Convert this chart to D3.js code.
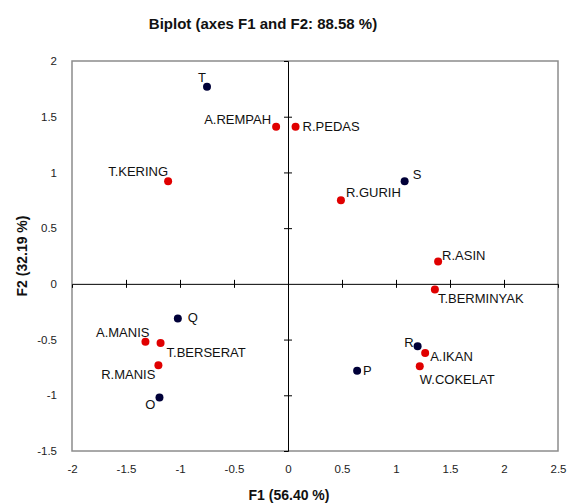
<!DOCTYPE html>
<html><head><meta charset="utf-8">
<script src="https://cdn.jsdelivr.net/npm/d3@7"></script>
<style>body{margin:0;background:#fff;} text{font-family:"Liberation Sans",Arial,sans-serif;}</style>
</head><body>
<svg id="c" width="569" height="504"></svg>
<script>
// Observations (dark navy)
const obsNames = ["T","Q","O","S","R","P"];
const obsF1 =    [-0.75,-1.02,-1.19,1.08,1.20,0.64];
const obsF2 =    [1.77,-0.31,-1.02,0.92,-0.56,-0.78];
// Variables (red)
const varNames = ["A.REMPAH","R.PEDAS","T.KERING","A.MANIS","T.BERSERAT","R.MANIS","R.GURIH","R.ASIN","T.BERMINYAK","A.IKAN","W.COKELAT"];
const varF1 =    [-0.11,0.07,-1.11,-1.32,-1.18,-1.20,0.49,1.39,1.36,1.27,1.22];
const varF2 =    [1.41,1.41,0.92,-0.52,-0.53,-0.73,0.75,0.20,-0.05,-0.62,-0.74];
const xTicks = [-2,-1.5,-1,-0.5,0,0.5,1,1.5,2,2.5];
const yTicks = [-1.5,-1,-0.5,0,0.5,1,1.5,2];
const titleText = "Biplot (axes F1 and F2: 88.58 %)";
const xTitle = "F1 (56.40 %)";
const yTitle = "F2 (32.19 %)";

// label offsets (dx, dy, anchor) — layout only
const obsLab = {T:[-1,-5,"end"],Q:[10,4,"start"],O:[-4,11,"end"],S:[8,-2,"start"],R:[-4,1,"end"],P:[6,4,"start"]};
const varLab = {"A.REMPAH":[-5,-3,"end"],"R.PEDAS":[7,4,"start"],"T.KERING":[0,-5,"end"],"A.MANIS":[4,-5,"end"],
 "T.BERSERAT":[6,14,"start"],"R.MANIS":[-3,14,"end"],"R.GURIH":[5,-3,"start"],"R.ASIN":[4,-2,"start"],
 "T.BERMINYAK":[3,14,"start"],"A.IKAN":[5,8,"start"],"W.COKELAT":[0,18,"start"]};

const svg = d3.select("#c");
const x = d3.scaleLinear().domain([-2,2.5]).range([72,558]);
const y = d3.scaleLinear().domain([-1.5,2]).range([451,61]);

// frame
svg.append("rect").attr("x",x(-2)).attr("y",y(2)).attr("width",x(2.5)-x(-2)).attr("height",y(-1.5)-y(2))
  .attr("fill","none").attr("stroke","#8c8c8c").attr("stroke-width",1.5);

// outer tick labels
svg.append("g").attr("transform",`translate(0,${y(-1.5)})`)
  .call(d3.axisBottom(x).tickValues(xTicks).tickSize(0).tickPadding(14).tickFormat(d=>String(d)))
  .call(g=>{g.select(".domain").remove(); g.selectAll("text").attr("font-size",11.5).attr("fill","#222");});
svg.append("g").attr("transform",`translate(${x(-2)},0)`)
  .call(d3.axisLeft(y).tickValues(yTicks).tickSize(0).tickPadding(15).tickFormat(d=>String(d)))
  .call(g=>{g.select(".domain").remove(); g.selectAll("text").attr("font-size",11.5).attr("fill","#222");});

// zero axes with crossing ticks
svg.append("g").attr("transform",`translate(0,${y(0)})`)
  .call(d3.axisBottom(x).tickValues(xTicks.filter(v=>v>-2&&v<2.5&&v!==0)).tickSize(4).tickFormat(""))
  .call(g=>{g.selectAll(".tick line").attr("y1",-4).attr("stroke","#000");g.select(".domain").attr("stroke","#000");});
svg.append("g").attr("transform",`translate(${x(0)},0)`)
  .call(d3.axisLeft(y).tickValues(yTicks.filter(v=>v>-1.5&&v<2&&v!==0)).tickSize(4).tickFormat(""))
  .call(g=>{g.selectAll(".tick line").attr("x1",4).attr("stroke","#000");g.select(".domain").attr("stroke","#000");});

// variables
const vars = varNames.map((n,i)=>({n,a:varF1[i],b:varF2[i]}));
const obs = obsNames.map((n,i)=>({n,a:obsF1[i],b:obsF2[i]}));
svg.selectAll(".v").data(vars).join("circle").attr("cx",d=>x(d.a)).attr("cy",d=>y(d.b)).attr("r",4).attr("fill","#e00000");
svg.selectAll(".o").data(obs).join("circle").attr("cx",d=>x(d.a)).attr("cy",d=>y(d.b)).attr("r",4).attr("fill","#000038");
svg.selectAll(".vl").data(vars).join("text").attr("x",d=>x(d.a)+varLab[d.n][0]).attr("y",d=>y(d.b)+varLab[d.n][1])
  .attr("text-anchor",d=>varLab[d.n][2]).attr("font-size",13).attr("fill","#111").text(d=>d.n);
svg.selectAll(".ol").data(obs).join("text").attr("x",d=>x(d.a)+obsLab[d.n][0]).attr("y",d=>y(d.b)+obsLab[d.n][1])
  .attr("text-anchor",d=>obsLab[d.n][2]).attr("font-size",13).attr("fill","#111").text(d=>d.n);

// titles
svg.append("text").attr("x",263).attr("y",29).attr("text-anchor","middle").attr("font-size",15).attr("font-weight","bold").attr("fill","#111").text(titleText);
svg.append("text").attr("x",289).attr("y",500).attr("text-anchor","middle").attr("font-size",14).attr("font-weight","bold").attr("fill","#111").text(xTitle);
svg.append("text").attr("transform","translate(27,256) rotate(-90)").attr("text-anchor","middle").attr("font-size",14).attr("font-weight","bold").attr("fill","#111").text(yTitle);
</script>
</body></html>
